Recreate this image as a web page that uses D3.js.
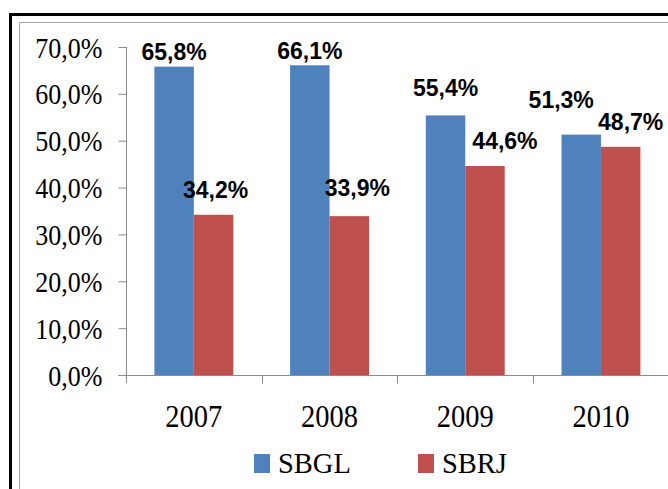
<!DOCTYPE html>
<html>
<head>
<meta charset="utf-8">
<script src="https://cdn.jsdelivr.net/npm/d3@7"></script>
<style>
  body { margin: 0; background: #fff; }
  svg { display: block; }
  .serif { font-family: "Liberation Serif", "Times New Roman", serif; }
</style>
</head>
<body>
<svg></svg>
<script>
const years = ["2007", "2008", "2009", "2010"];
const series = ["SBGL", "SBRJ"];
const sbgl = [65.8, 66.1, 55.4, 51.3];
const sbrj = [34.2, 33.9, 44.6, 48.7];
const yTicks = [0, 10, 20, 30, 40, 50, 60, 70];

// label nudges: [dx, gap above bar]
const labelNudge = {
  SBGL: [[0, 7], [0, 6], [0, 19], [-20, 27]],
  SBRJ: [[2, 17], [8, 20], [20, 17], [10, 17]]
};

const w = 668, h = 489;
const colors = { SBGL: "#4F81BD", SBRJ: "#C0504D" };
const fmt = v => d3.format(".1f")(v).replace(".", ",") + "%";

const svg = d3.select("svg").attr("width", w).attr("height", h);
svg.append("rect").attr("width", w).attr("height", h).attr("fill", "#fff");

// frames
svg.append("rect")
  .attr("x", 10.5).attr("y", 14.5).attr("width", 700).attr("height", 500)
  .attr("fill", "none").attr("stroke", "#000").attr("stroke-width", 3);
svg.append("rect")
  .attr("x", 19.5).attr("y", 22.5).attr("width", 700).attr("height", 500)
  .attr("fill", "none").attr("stroke", "#a6a6a6").attr("stroke-width", 1);

const x0 = d3.scaleBand().domain(years).range([126, 126 + 4 * 135.7]);
const x1 = d3.scaleBand().domain(series).range([0, x0.bandwidth()]).paddingOuter(0.72);
const y = d3.scaleLinear().domain([0, 70]).range([375, 47]);

// y axis
const yAxis = svg.append("g")
  .attr("transform", "translate(126.5,0)")
  .call(d3.axisLeft(y).tickValues(yTicks).tickSize(8).tickSizeOuter(0).tickPadding(16)
    .tickFormat(fmt));
yAxis.attr("font-family", null).attr("font-size", null);
yAxis.selectAll("line, path").attr("stroke", "#8c8c8c");
yAxis.select(".domain").attr("d", `M0,${y(70)}V${y(0) + 8}`);
yAxis.selectAll("text")
  .attr("class", "serif")
  .style("font-size", "26px").attr("fill", "#000")
  .attr("dy", null)
  .attr("transform", "translate(0,10) scale(1,1.13)");

// x axis
const xAxis = svg.append("g").attr("transform", `translate(0,${y(0) + 0.5})`);
xAxis.append("line")
  .attr("x1", 118).attr("x2", w).attr("stroke", "#8c8c8c");
xAxis.selectAll(".xt")
  .data(years.slice(1))
  .join("line")
  .attr("x1", d => Math.round(x0(d)) + 0.5).attr("x2", d => Math.round(x0(d)) + 0.5)
  .attr("y1", 0).attr("y2", 8).attr("stroke", "#8c8c8c");
xAxis.selectAll(".xl")
  .data(years)
  .join("text")
  .attr("class", "serif")
  .attr("text-anchor", "middle")
  .style("font-size", "28.5px")
  .attr("transform", d => `translate(${x0(d) + x0.bandwidth() / 2},51) scale(1,1.12)`)
  .text(d => d);

// bars
const rows = [];
years.forEach((yr, i) => {
  rows.push({ year: yr, s: "SBGL", v: sbgl[i], n: labelNudge.SBGL[i] });
  rows.push({ year: yr, s: "SBRJ", v: sbrj[i], n: labelNudge.SBRJ[i] });
});

svg.append("g").selectAll("rect")
  .data(rows)
  .join("rect")
  .attr("x", d => x0(d.year) + x1(d.s))
  .attr("y", d => y(d.v))
  .attr("width", x1.bandwidth())
  .attr("height", d => y(0) - y(d.v))
  .attr("fill", d => colors[d.s]);

svg.append("g").selectAll("text")
  .data(rows)
  .join("text")
  .attr("x", d => x0(d.year) + x1(d.s) + x1.bandwidth() / 2 + d.n[0])
  .attr("y", d => y(d.v) - d.n[1])
  .attr("text-anchor", "middle")
  .style("font-family", "'Liberation Sans', Arial, sans-serif")
  .style("font-weight", "bold")
  .style("font-size", "23px")
  .text(d => fmt(d.v));

// legend
const legendX = { SBGL: 254, SBRJ: 418 };
const lg = svg.append("g").selectAll("g")
  .data(series)
  .join("g")
  .attr("transform", d => `translate(${legendX[d]},454)`);
lg.append("rect").attr("width", 16).attr("height", 19).attr("fill", d => colors[d]);
lg.append("text")
  .attr("class", "serif")
  .attr("x", 24).attr("y", 19)
  .style("font-size", "28.5px")
  .text(d => d);
</script>
</body>
</html>
